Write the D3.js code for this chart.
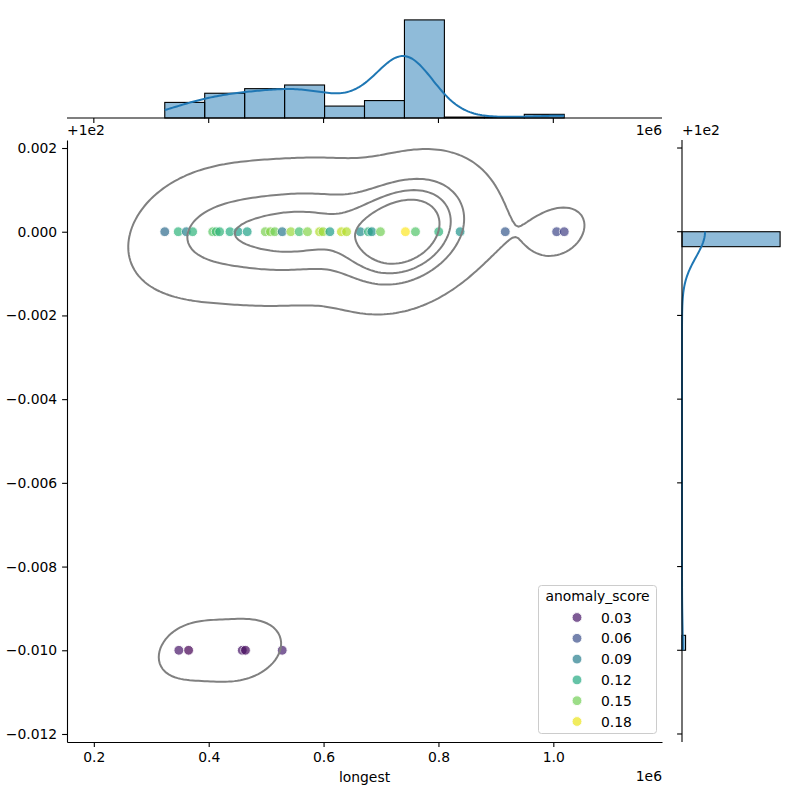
<!DOCTYPE html>
<html>
<head>
<meta charset="utf-8">
<script src="https://cdn.jsdelivr.net/npm/d3@7"></script>
<style>
body { margin: 0; background: #fff; }
text { font-family: "DejaVu Sans", sans-serif; fill: #000; }
</style>
</head>
<body>
<div id="plot"></div>
<script>
// points: value of "longest", row value, anomaly score, rows stacked on that spot
var pointX = [323500, 347000, 361000, 372000, 407000, 413000, 419000, 437000, 451000, 467000,
              498500, 507500, 515000, 528000, 543000, 557500, 572000, 593000, 599000, 611000,
              631000, 640000, 664000, 678000, 684000, 699000, 742500, 760000, 800500, 837700,
              916300, 1005800, 1019000,
              348000, 365000, 458400, 464000, 528000];
var pointY = [100, 100, 100, 100, 100, 100, 100, 100, 100, 100,
              100, 100, 100, 100, 100, 100, 100, 100, 100, 100,
              100, 100, 100, 100, 100, 100, 100, 100, 100, 100,
              100, 100, 100,
              99.99, 99.99, 99.99, 99.99, 99.99];
var pointScore = [0.078, 0.127, 0.094, 0.127, 0.143, 0.135, 0.128, 0.122, 0.112, 0.115,
                  0.152, 0.155, 0.150, 0.086, 0.160, 0.135, 0.155, 0.166, 0.160, 0.112,
                  0.170, 0.166, 0.100, 0.128, 0.105, 0.150, 0.185, 0.140, 0.128, 0.105,
                  0.066, 0.056, 0.052,
                  0.030, 0.020, 0.030, 0.024, 0.034];
var pointCount = [1, 1, 5, 6, 3, 4, 5, 6, 7, 6,
                  6, 6, 6, 5, 7, 7, 8, 7, 7, 3,
                  4, 3, 3, 6, 7, 6, 95, 6, 6, 1,
                  1, 2, 2,
                  2, 2, 2, 2, 1];

var xTicks = [200000, 400000, 600000, 800000, 1000000];
var yTicks = [0.002, 0, -0.002, -0.004, -0.006, -0.008, -0.010, -0.012];
var legendScores = [0.03, 0.06, 0.09, 0.12, 0.15, 0.18];
var xBinCount = 10, yBinCount = 28, kdeLevels = 5, kdeThresh = 0.05;
var yOffset = 100;

var W = 800, H = 800;
var main = {l: 67, r: 662, t: 140, b: 742};
var margTop = {t: 15, b: 118};
var margRight = {l: 682, r: 785};
var blue = '#1f77b4';

var svg = d3.select('#plot').append('svg')
    .attr('width', W).attr('height', H);

var pts = pointX.map(function(x, i) {
    return {x: x, y: pointY[i] - yOffset, s: pointScore[i], c: pointCount[i]};
});
var N = d3.sum(pointCount);
var mx = d3.sum(pts, function(p) { return p.c * p.x; }) / N;
var my = d3.sum(pts, function(p) { return p.c * p.y; }) / N;
var sxx = d3.sum(pts, function(p) { return p.c * (p.x - mx) * (p.x - mx); }) / (N - 1);
var syy = d3.sum(pts, function(p) { return p.c * (p.y - my) * (p.y - my); }) / (N - 1);
var sxy = d3.sum(pts, function(p) { return p.c * (p.x - mx) * (p.y - my); }) / (N - 1);
var xmin = d3.min(pointX), xmax = d3.max(pointX);
var ymin = d3.min(pts, function(p) { return p.y; }), ymax = d3.max(pts, function(p) { return p.y; });

/* bivariate kde, scott bandwidth, grid cut at 3 bw */
var f2 = Math.pow(N, -1 / 6);
var kxx = sxx * f2 * f2, kyy = syy * f2 * f2, kxy = sxy * f2 * f2;
var det = kxx * kyy - kxy * kxy;
var ixx = kyy / det, iyy = kxx / det, ixy = -kxy / det;
var bwx = Math.sqrt(kxx), bwy = Math.sqrt(kyy);
var G = 200;
var gx0 = xmin - 3 * bwx, gx1 = xmax + 3 * bwx;
var gy0 = ymin - 3 * bwy, gy1 = ymax + 3 * bwy;
var stepX = (gx1 - gx0) / (G - 1), stepY = (gy1 - gy0) / (G - 1);
var grid = new Float64Array(G * G);
for (var j = 0; j < G; j++) {
    var gy = gy0 + j * stepY;
    for (var i = 0; i < G; i++) {
        var gx = gx0 + i * stepX, v = 0;
        pts.forEach(function(p) {
            var dx = gx - p.x, dy = gy - p.y;
            v += p.c * Math.exp(-0.5 * (dx * dx * ixx + 2 * dx * dy * ixy + dy * dy * iyy));
        });
        grid[j * G + i] = v;
    }
}
var sorted = Array.from(grid).sort(function(a, b) { return b - a; });
var total = d3.sum(sorted), run = 0;
var cum = sorted.map(function(v) { run += v; return run / total; });
var levels = d3.range(kdeLevels - 1).map(function(k) {
    var iso = kdeThresh + k * ((1 - kdeThresh) / (kdeLevels - 1));
    var idx = Math.min(d3.bisectLeft(cum, 1 - iso), sorted.length - 1);
    return sorted[idx];
});

var x = d3.scaleLinear().domain([gx0, gx1]).range([main.l, main.r]);
var y = d3.scaleLinear().domain([gy0, gy1]).range([main.b, main.t]);

/* histograms */
var xBinW = (xmax - xmin) / xBinCount;
var xBins = d3.range(xBinCount).map(function(k) { return {x0: xmin + k * xBinW, x1: xmin + (k + 1) * xBinW, n: 0}; });
pts.forEach(function(p) {
    var k = Math.min(Math.floor((p.x - xmin) / xBinW), xBinCount - 1);
    xBins[k].n += p.c;
});
var yBinW = (ymax - ymin) / yBinCount;
var yBins = d3.range(yBinCount).map(function(k) { return {y0: ymin + k * yBinW, y1: ymin + (k + 1) * yBinW, n: 0}; });
pts.forEach(function(p) {
    var k = Math.min(Math.floor((p.y - ymin) / yBinW + 1e-9), yBinCount - 1);
    yBins[k].n += p.c;
});

function kde1(key, bw, at, binw) {
    return d3.sum(pts, function(p) {
        var z = (at - p[key]) / bw;
        return p.c * Math.exp(-0.5 * z * z) / (Math.sqrt(2 * Math.PI) * bw);
    }) * binw;
}
var f1 = Math.pow(N, -0.2);
var kdeX = d3.range(200).map(function(k) {
    var v = xmin + k * (xmax - xmin) / 199;
    return [v, kde1('x', f1 * Math.sqrt(sxx), v, xBinW)];
});
var kdeY = d3.range(200).map(function(k) {
    var v = ymin + k * (ymax - ymin) / 199;
    return [v, kde1('y', f1 * Math.sqrt(syy), v, yBinW)];
});

var hx = d3.scaleLinear().domain([0, d3.max(xBins, function(b) { return b.n; }) * 1.05]).range([margTop.b, margTop.t]);
var hy = d3.scaleLinear().domain([0, d3.max(yBins, function(b) { return b.n; }) * 1.05]).range([margRight.l, margRight.r]);

var topG = svg.append('g');
topG.selectAll('rect').data(xBins).enter().append('rect')
    .attr('x', function(d) { return x(d.x0); })
    .attr('width', function(d) { return x(d.x1) - x(d.x0); })
    .attr('y', function(d) { return hx(d.n); })
    .attr('height', function(d) { return hx(0) - hx(d.n); })
    .attr('fill', blue).attr('fill-opacity', 0.5)
    .attr('stroke', '#000').attr('stroke-width', 1.1);
topG.append('path').datum(kdeX)
    .attr('d', d3.line().x(function(d) { return x(d[0]); }).y(function(d) { return hx(d[1]); }))
    .attr('fill', 'none').attr('stroke', blue).attr('stroke-width', 2);
topG.append('line').attr('x1', main.l).attr('x2', main.r).attr('y1', margTop.b).attr('y2', margTop.b)
    .attr('stroke', '#000').attr('stroke-width', 1.1);
topG.selectAll('.tk').data(xTicks).enter().append('line')
    .attr('x1', function(d) { return x(d); }).attr('x2', function(d) { return x(d); })
    .attr('y1', margTop.b).attr('y2', margTop.b + 4.9)
    .attr('stroke', '#000').attr('stroke-width', 1.1);

var rightG = svg.append('g');
rightG.selectAll('rect').data(yBins.filter(function(b) { return b.n > 0; })).enter().append('rect')
    .attr('x', hy(0))
    .attr('width', function(d) { return hy(d.n) - hy(0); })
    .attr('y', function(d) { return y(d.y1); })
    .attr('height', function(d) { return y(d.y0) - y(d.y1); })
    .attr('fill', blue).attr('fill-opacity', 0.5)
    .attr('stroke', '#000').attr('stroke-width', 1.1);
rightG.append('path').datum(kdeY)
    .attr('d', d3.line().x(function(d) { return hy(d[1]); }).y(function(d) { return y(d[0]); }))
    .attr('fill', 'none').attr('stroke', blue).attr('stroke-width', 2);
rightG.append('line').attr('x1', margRight.l).attr('x2', margRight.l).attr('y1', main.t).attr('y2', main.b)
    .attr('stroke', '#000').attr('stroke-width', 1.1);
rightG.selectAll('.tk').data(yTicks).enter().append('line')
    .attr('y1', function(d) { return y(d); }).attr('y2', function(d) { return y(d); })
    .attr('x1', margRight.l - 4.9).attr('x2', margRight.l)
    .attr('stroke', '#000').attr('stroke-width', 1.1);

/* joint plot */
svg.append('clipPath').attr('id', 'clipMain').append('rect')
    .attr('x', main.l).attr('y', main.t).attr('width', main.r - main.l).attr('height', main.b - main.t);

var color = d3.scaleSequential(d3.interpolateViridis)
    .domain([d3.min(pointScore), d3.max(pointScore)]);

var plot = svg.append('g').attr('clip-path', 'url(#clipMain)');
plot.selectAll('.dot').data(pts).enter().append('circle')
    .attr('class', 'dot')
    .attr('cx', function(d) { return x(d.x); })
    .attr('cy', function(d) { return y(d.y); })
    .attr('r', 4.9)
    .attr('fill', function(d) { return color(d.s); })
    .attr('stroke', '#fff').attr('stroke-width', 0.9)
    .attr('opacity', 0.7);

var contours = d3.contours().size([G, G]).thresholds(levels)(grid);
function ringPath(ring) {
    return 'M' + ring.map(function(p) {
        return [x(gx0 + (p[0] - 0.5) * stepX), y(gy0 + (p[1] - 0.5) * stepY)].join(',');
    }).join('L') + 'Z';
}
plot.selectAll('.contour').data(contours).enter().append('path')
    .attr('class', 'contour')
    .attr('d', function(c) {
        return c.coordinates.map(function(poly) { return poly.map(ringPath).join(''); }).join('');
    })
    .attr('fill', 'none').attr('stroke', 'gray').attr('stroke-width', 2);

/* axes */
var xAxis = d3.axisBottom(x).tickValues(xTicks)
    .tickFormat(function(d) { return d3.format('.1f')(d / 1e6); })
    .tickSize(4.9).tickSizeOuter(0).tickPadding(4.9);
var gX = svg.append('g').attr('transform', 'translate(0,' + main.b + ')').call(xAxis);
var yAxis = d3.axisLeft(y).tickValues(yTicks).tickFormat(d3.format('.3f'))
    .tickSize(4.9).tickSizeOuter(0).tickPadding(4.9);
var gY = svg.append('g').attr('transform', 'translate(' + main.l + ',0)').call(yAxis);
[gX, gY].forEach(function(g) {
    g.selectAll('path,line').attr('stroke', '#000').attr('stroke-width', 1.1);
    g.selectAll('text').attr('font-size', '13.9px').attr('font-family', '"DejaVu Sans", sans-serif').attr('fill', '#000');
});

svg.append('text').attr('x', (main.l + main.r) / 2).attr('y', 782)
    .attr('text-anchor', 'middle').attr('font-size', '13.9px').text('longest');
svg.append('text').attr('x', main.r).attr('y', 781)
    .attr('text-anchor', 'end').attr('font-size', '13.9px').text('1e6');
svg.append('text').attr('x', main.l).attr('y', 135)
    .attr('font-size', '13.9px').text('+1e2');
svg.append('text').attr('x', main.r).attr('y', 135)
    .attr('text-anchor', 'end').attr('font-size', '13.9px').text('1e6');
svg.append('text').attr('x', margRight.l).attr('y', 135)
    .attr('font-size', '13.9px').text('+1e2');

/* legend */
var lg = svg.append('g');
lg.append('rect').attr('x', 538.5).attr('y', 585.5).attr('width', 118).attr('height', 148)
    .attr('rx', 3).attr('fill', '#fff').attr('fill-opacity', 0.8)
    .attr('stroke', '#ccc').attr('stroke-width', 1);
lg.append('text').attr('x', 597.5).attr('y', 601).attr('text-anchor', 'middle')
    .attr('font-size', '13.9px').text('anomaly_score');
var items = lg.selectAll('.item').data(legendScores).enter().append('g')
    .attr('transform', function(d, i) { return 'translate(0,' + (617.5 + i * 20.8) + ')'; });
items.append('circle').attr('cx', 577).attr('cy', 0).attr('r', 4.9)
    .attr('fill', function(d) { return color(d); })
    .attr('stroke', '#fff').attr('stroke-width', 0.9).attr('opacity', 0.7);
items.append('text').attr('x', 601).attr('y', 5)
    .attr('font-size', '13.9px').text(function(d) { return d3.format('.2f')(d); });
</script>
</body>
</html>
